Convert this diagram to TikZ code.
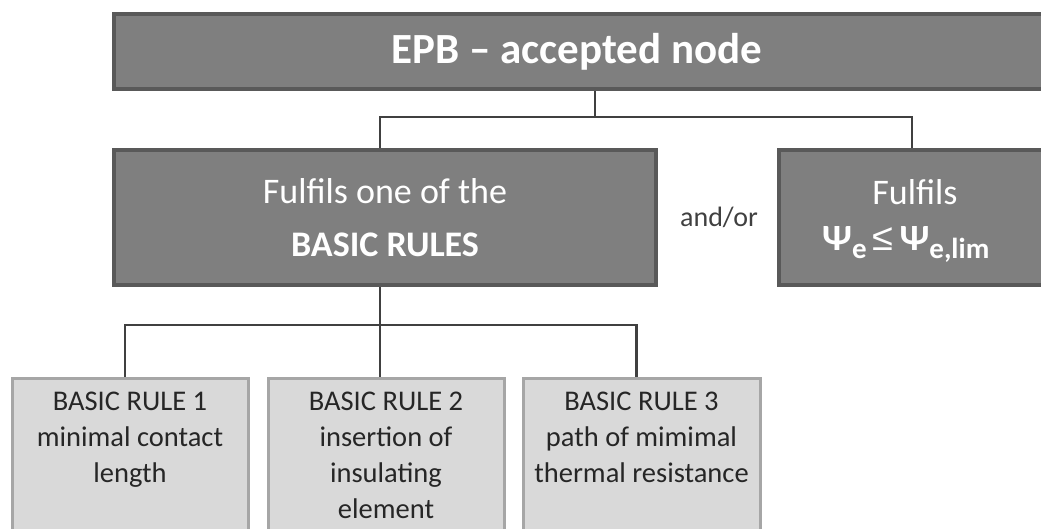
\documentclass[tikz,border=0pt]{standalone}
\usepackage{fontspec}
\setmainfont{Carlito}
\newfontfamily\symfont{Liberation Sans}
\usetikzlibrary{backgrounds}
\definecolor{darkfill}{HTML}{7F7F7F}
\definecolor{darkline}{HTML}{595959}
\definecolor{lightfill}{HTML}{D9D9D9}
\definecolor{lightline}{HTML}{A6A6A6}
\definecolor{wirecol}{HTML}{404040}
\definecolor{ink}{HTML}{262626}
% bold Psi with a lowered bold subscript
\newcommand{\psisub}[1]{{\fontsize{37}{37}\selectfont\bfseries Ψ}\raisebox{-8pt}{\fontsize{29}{29}\selectfont\bfseries #1}}
\newcommand{\lesym}{{\symfont\fontsize{38}{38}\selectfont ≤}}
\begin{document}
\begin{tikzpicture}[x=1pt,y=-1pt,
  darkbox/.style={draw=darkline, fill=darkfill, line width=3.5pt, text=white,
    inner sep=0pt, outer sep=0pt, anchor=north west},
  lightbox/.style={draw=lightline, fill=lightfill, line width=3pt,
    inner sep=0pt, outer sep=0pt, anchor=north west, minimum width=236pt, minimum height=170pt},
  ruletext/.style={text=ink, align=center, anchor=north, inner sep=0pt,
    font=\fontsize{28.5}{36}\selectfont},
  wire/.style={draw=wirecol, line width=2.5pt}]
\useasboundingbox (0,0) rectangle (1041,529);
\clip (0,0) rectangle (1041,529);

% top level
\node[darkbox, minimum width=940pt, minimum height=75pt] (top) at (114,14) {};
\node[text=white, font=\fontsize{43}{43}\selectfont\bfseries] (toplabel) at (577,52) {EPB – accepted node};

% second level
\node[darkbox, minimum width=542pt, minimum height=135pt, align=center,
  font=\fontsize{36}{53}\selectfont] (rules) at (114,150)
  {Fulfils one of the\\ \textbf{BASIC RULES}};
\node[darkbox, minimum width=270pt, minimum height=135pt] (psi) at (779,150) {};
\node[text=white, font=\fontsize{36}{36}\selectfont, anchor=base]
  (fulfils) at (915,205) {Fulfils};
\node[text=white, anchor=base west, inner sep=0pt] (formula) at (822,251)
  {\psisub{e}\hspace{6pt}\lesym\hspace{6pt}\psisub{e,lim}};
\node[text=wirecol, font=\fontsize{28}{28}\selectfont] (andor) at (719,217) {and/or};

% third level
\node[lightbox] (r1) at (12,378) {};
\node[lightbox] (r2) at (268,378) {};
\node[lightbox, minimum width=237pt] (r3) at (523,378) {};
\node[ruletext] (t1) at ([yshift=-14pt]r1.north) {BASIC RULE 1\\ minimal contact\\ length};
\node[ruletext] (t2) at ([yshift=-14pt]r2.north) {BASIC RULE 2\\ insertion of\\ insulating\\ element};
\node[ruletext] (t3) at ([yshift=-14pt]r3.north) {BASIC RULE 3\\ path of mimimal\\ thermal resistance};

% connectors, kept behind the boxes
\coordinate (j1) at (595,117);
\coordinate (j2) at (380,325);
\begin{scope}[on background layer]
\draw[wire] (top.south -| j1) -- (j1);
\draw[wire] (j1) -| (rules.north -| j2);
\draw[wire] (j1) -| ([xshift=-2pt]psi.north);
\draw[wire] (rules.south -| j2) -- (j2);
\draw[wire] (j2) -| ([xshift=-5pt]r1.north);
\draw[wire] (j2) -| ([xshift=-6pt]r2.north);
\draw[wire] (j2) -| ([xshift=-5pt]r3.north);
\end{scope}
\end{tikzpicture}
\end{document}
